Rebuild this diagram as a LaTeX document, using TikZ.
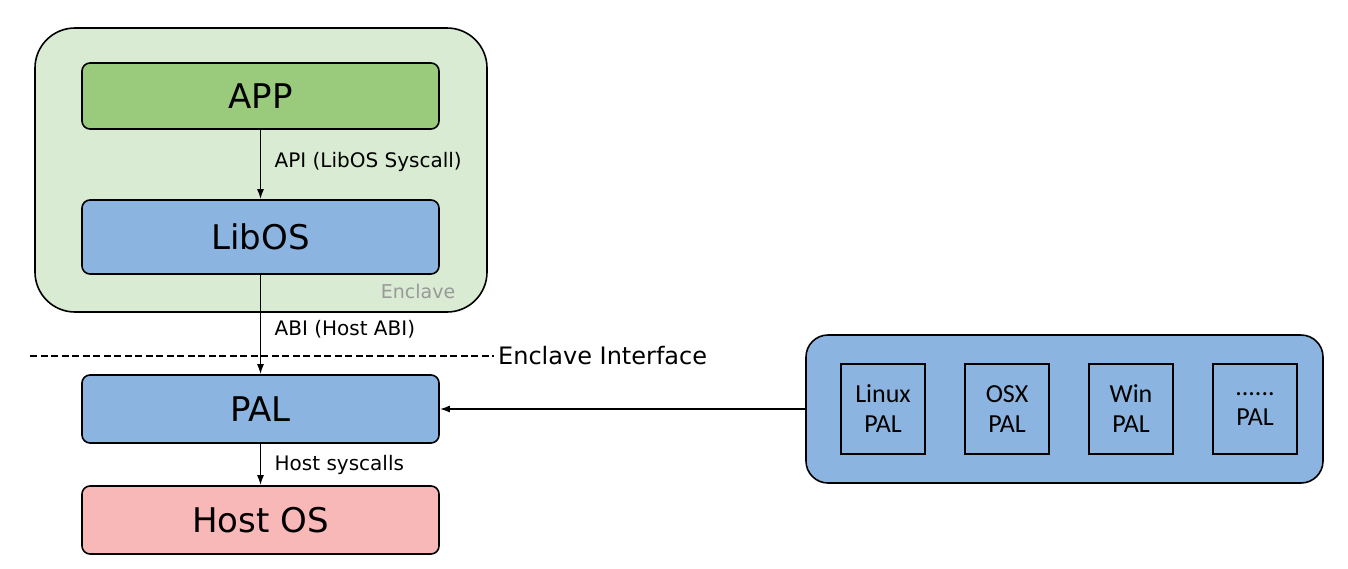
\documentclass[tikz,border=0pt]{standalone}
\usepackage{fontspec}
\setmainfont{DejaVu Sans}
\newfontfamily\calfont{Carlito}
\usetikzlibrary{positioning,shapes,arrows.meta}
\definecolor{enclgreen}{HTML}{DAEBD3}
\definecolor{appgreen}{HTML}{9ACA7C}
\definecolor{palblue}{HTML}{8CB4E0}
\definecolor{hostpink}{HTML}{F9B8B8}
\definecolor{labelgrey}{HTML}{999999}

\begin{document}
\begin{tikzpicture}[x=1pt, y=-1pt, line width=1.6pt,
    >={Latex[length=10pt, width=7pt]},
    layer/.style={draw, rounded corners=8pt, minimum width=357pt,
                  minimum height=68pt, font=\fontsize{34}{38}\selectfont},
    palbox/.style={draw, minimum width=84pt, minimum height=90pt,
                   align=center, font=\calfont\fontsize{26}{30}\selectfont},
    lbl/.style={right, xshift=10pt, font=\fontsize{20}{24}\selectfont}]
    \useasboundingbox (0, 0) rectangle (1348, 568);
    % enclave
    \draw[fill=enclgreen, rounded corners=40pt] (35, 28) rectangle (487, 312);
    \node (encl) [text=labelgrey, font=\fontsize{19}{22}\selectfont] at (418, 291) {Enclave};
    \node (app) [layer, fill=appgreen, minimum height=66pt] at (260.5, 96) {APP};
    \node (libos) [layer, fill=palblue, minimum height=74pt] at (260.5, 237) {LibOS};
    % outside
    \node (pal) [layer, fill=palblue] at (260.5, 409) {PAL};
    \node (host) [layer, fill=hostpink] at (260.5, 520) {Host OS};
    \draw[->] (app) -- node [lbl, pos=.47] {API (LibOS Syscall)} (libos);
    \draw[->] (libos) -- node [lbl, pos=.55] {ABI (Host ABI)} (pal);
    \draw[->] (pal) -- node [lbl] {Host syscalls} (host);
    % interface line
    \coordinate (dl) at (30, 356);
    \node (intf) [right, font=\fontsize{24}{28}\selectfont] at (494, 356) {Enclave Interface};
    \draw[dash pattern=on 7pt off 3.5pt] (dl) -- (intf.west);
    % PAL implementations
    \node (impl) [draw, fill=palblue, rounded corners=22pt,
                  minimum width=517pt, minimum height=148pt] at (1064.5, 409) {};
    \node (linux) [palbox] at (883, 409) {Linux\\PAL};
    \node (osx) [palbox] at (1007, 409) {OSX\\PAL};
    \node (win) [palbox] at (1131, 409) {Win\\PAL};
    \node (more) [palbox] at (1255, 409) {......\\PAL};
    \draw[->] (impl) -- (pal);
\end{tikzpicture}
\end{document}
